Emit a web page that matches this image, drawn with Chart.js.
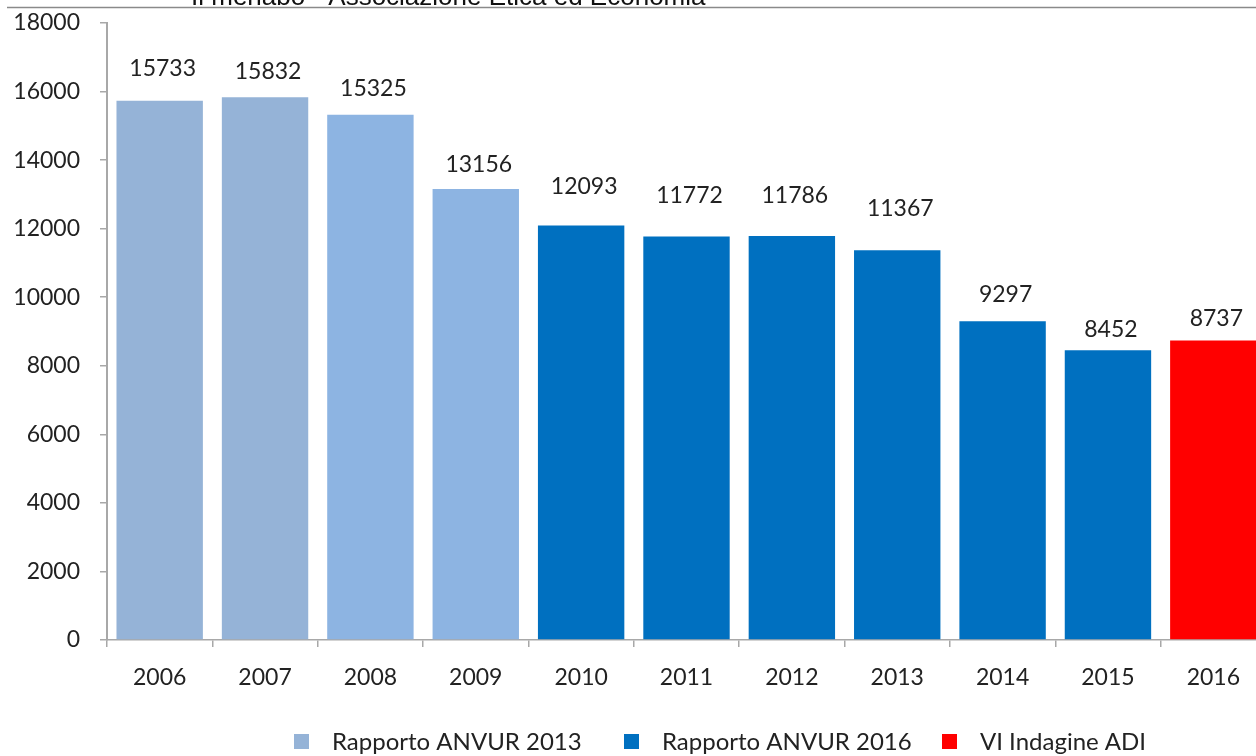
<!DOCTYPE html>
<html>
<head>
<meta charset="utf-8">
<script src="https://cdn.jsdelivr.net/npm/chart.js@4"></script>
<style>
  html, body { margin: 0; padding: 0; background: #fff; overflow: hidden; }
  #wrap { position: relative; width: 1266px; height: 756px; }
</style>
</head>
<body>
<div id="wrap"><canvas id="c" width="1266" height="756"></canvas></div>
<script>
// Dottorandi per anno (fonti diverse)
const years = ['2006', '2007', '2008', '2009', '2010', '2011', '2012', '2013', '2014', '2015', '2016'];
const anvur2013 = [15733, 15832, 15325, 13156, null, null, null, null, null, null, null];
const anvur2016 = [null, null, null, null, 12093, 11772, 11786, 11367, 9297, 8452, null];
const indagineADI = [null, null, null, null, null, null, null, null, null, null, 8737];
const seriesNames = ['Rapporto ANVUR 2013', 'Rapporto ANVUR 2016', 'VI Indagine ADI'];
const yMin = 0, yMax = 18000, yStep = 2000;
const headerText = 'Il menabò - Associazione Etica ed Economia';

const FONT = 'Lato, "Open Sans", sans-serif';
const TEXT = '#222222';
const AXIS = '#a8a8a8';

const lightBlue = ['#95B3D7', '#95B3D7', '#8DB4E2', '#8DB4E2', '#8DB4E2', '#8DB4E2', '#8DB4E2', '#8DB4E2', '#8DB4E2', '#8DB4E2', '#8DB4E2'];
const seriesColors = ['#95B3D7', '#0070C0', '#FF0000'];

// distance of each value label above its bar top
const labelLift = [32, 26, 26, 24, 39, 41, 40, 42, 27, 21, 22];

const headerPlugin = {
  id: 'header',
  afterDraw(chart) {
    const ctx = chart.ctx;
    ctx.save();
    ctx.strokeStyle = '#8a8a8a';
    ctx.lineWidth = 1.5;
    ctx.beginPath();
    ctx.moveTo(7, 7.5);
    ctx.lineTo(1266, 7.5);
    ctx.stroke();
    ctx.fillStyle = '#111';
    ctx.font = '26px "Liberation Sans", Arial, sans-serif';
    ctx.textAlign = 'left';
    ctx.textBaseline = 'alphabetic';
    ctx.fillText(headerText, 191, 5);
    ctx.restore();
  }
};

const valueLabelPlugin = {
  id: 'valueLabels',
  afterDatasetsDraw(chart) {
    const ctx = chart.ctx;
    ctx.save();
    ctx.fillStyle = TEXT;
    ctx.font = '23px ' + FONT;
    ctx.textAlign = 'center';
    ctx.textBaseline = 'middle';
    chart.data.datasets.forEach((ds, di) => {
      const meta = chart.getDatasetMeta(di);
      meta.data.forEach((el, i) => {
        const v = ds.data[i];
        if (v === null || v === undefined) return;
        ctx.fillText(String(v), el.x + 3, el.y - labelLift[i]);
      });
    });
    ctx.restore();
  }
};

const legendPlugin = {
  id: 'bottomLegend',
  afterDraw(chart) {
    const ctx = chart.ctx;
    const boxX = [294, 624, 942];
    const y = 742;
    ctx.save();
    ctx.font = '24px ' + FONT;
    ctx.textAlign = 'left';
    ctx.textBaseline = 'middle';
    seriesNames.forEach((name, i) => {
      ctx.fillStyle = seriesColors[i];
      ctx.fillRect(boxX[i], y - 8, 15, 15);
      ctx.fillStyle = TEXT;
      ctx.fillText(name, boxX[i] + 38, y);
    });
    ctx.restore();
  }
};

new Chart(document.getElementById('c'), {
  type: 'bar',
  data: {
    labels: years,
    datasets: [
      { label: seriesNames[0], data: anvur2013, backgroundColor: lightBlue },
      { label: seriesNames[1], data: anvur2016, backgroundColor: seriesColors[1] },
      { label: seriesNames[2], data: indagineADI, backgroundColor: seriesColors[2] }
    ]
  },
  options: {
    responsive: false,
    animation: false,
    devicePixelRatio: 1,
    layout: { padding: { top: 23, left: 0, right: 0, bottom: 0 } },
    datasets: { bar: { categoryPercentage: 1, barPercentage: 0.82 } },
    plugins: {
      legend: { display: false },
      tooltip: { enabled: false },
      title: { display: false }
    },
    scales: {
      x: {
        stacked: true,
        grid: { drawOnChartArea: false, drawTicks: true, tickLength: 7, color: AXIS, lineWidth: 1.5, offset: true },
        border: { color: AXIS, width: 1.5 },
        ticks: { color: TEXT, font: { family: FONT, size: 23 }, padding: 17, maxRotation: 0 },
        afterFit(scale) { scale.height = 116; }
      },
      y: {
        stacked: true,
        min: yMin,
        max: yMax,
        grid: { drawOnChartArea: false, drawTicks: true, tickLength: 7, color: AXIS, lineWidth: 1.5 },
        border: { color: AXIS, width: 2 },
        ticks: {
          stepSize: yStep, color: TEXT, font: { family: FONT, size: 23 }, padding: 20,
          callback: (v) => String(v)
        },
        afterFit(scale) {
          scale.width = 107;
          scale.paddingTop = 0;
          scale.paddingBottom = 0;
        }
      }
    }
  },
  plugins: [headerPlugin, valueLabelPlugin, legendPlugin]
});
</script>
</body>
</html>
